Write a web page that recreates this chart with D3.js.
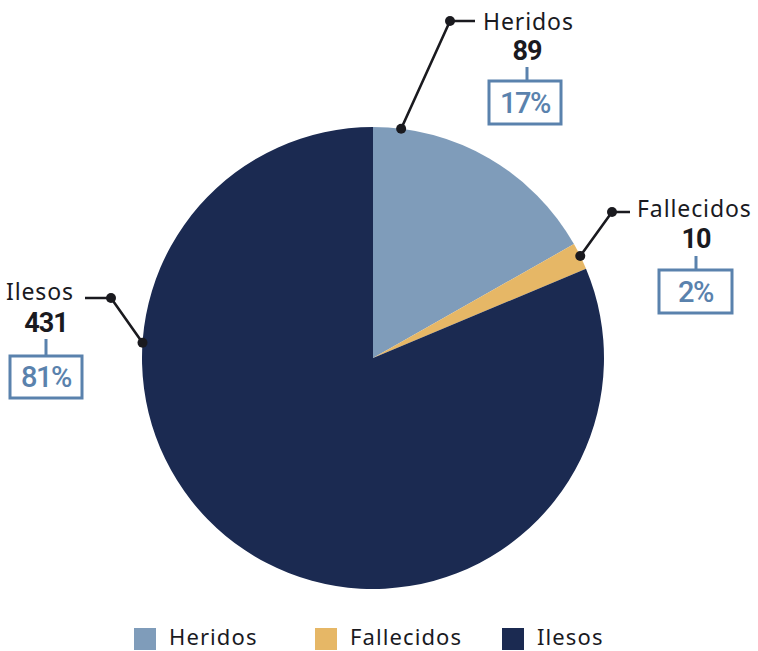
<!DOCTYPE html>
<html><head><meta charset="utf-8">
<script src="https://cdn.jsdelivr.net/npm/d3@7"></script>
<style>
html,body{margin:0;padding:0;background:#fff;}
svg{display:block;}
</style></head>
<body>
<svg id="chart" width="758" height="651"></svg>
<script>
const categories = ["Heridos", "Fallecidos", "Ilesos"];
const values = [89, 10, 431];
const percentLabels = ["17%", "2%", "81%"];
const colors = ["#7f9cba", "#e6b766", "#1b2a51"];

const svg = d3.select("#chart");
const cx = 373, cy = 358, R = 231;
const g = svg.append("g").attr("transform", `translate(${cx},${cy})`);

const pie = d3.pie().sort(null).value(d => d)(values);
const arc = d3.arc().innerRadius(0).outerRadius(R);
g.selectAll("path.slice").data(pie).join("path")
  .attr("class","slice")
  .attr("d", arc)
  .attr("fill", (d,i) => colors[i]);

// label layout (positions only)
const layout = [
  {anchorDeg: 7, elbow:[450,21], lineEnd:[475,21], text:[483,30], anchor:"start", numX:527, numY:60, box:[489,81,72,43], stubTop:67},
  {anchorDeg: 63.8, elbow:[612,212], lineEnd:[630,212], text:[637,217], anchor:"start", numX:696, numY:248, box:[659,270,73,43], stubTop:256},
  {anchorDeg: 273.8, elbow:[111,298], lineEnd:[85,298], text:[74,300], anchor:"end", numX:46, numY:332, box:[10,356,72,42], stubTop:339}
];

const ink = "#1a1a1f", blue = "#5a82ad";
const labelFont = "'Noto Sans', 'Open Sans', sans-serif";
const numFont = "'Roboto', 'Noto Sans', sans-serif";
layout.forEach((L, i) => {
  const a = L.anchorDeg * Math.PI / 180;
  const px = cx + R * Math.sin(a), py = cy - R * Math.cos(a);
  svg.append("polyline")
    .attr("points", `${px},${py} ${L.elbow[0]},${L.elbow[1]} ${L.lineEnd[0]},${L.lineEnd[1]}`)
    .attr("fill","none").attr("stroke", ink).attr("stroke-width", 2.6);
  svg.append("circle").attr("cx", px).attr("cy", py).attr("r", 5).attr("fill", ink);
  svg.append("circle").attr("cx", L.elbow[0]).attr("cy", L.elbow[1]).attr("r", 5).attr("fill", ink);
  svg.append("text").attr("x", L.text[0]).attr("y", L.text[1])
    .attr("text-anchor", L.anchor)
    .attr("font-family", labelFont)
    .attr("font-size", 23).attr("letter-spacing", 0.9).attr("fill", ink)
    .text(categories[i]);
  svg.append("text").attr("x", L.numX).attr("y", L.numY)
    .attr("text-anchor","middle")
    .attr("font-family", numFont)
    .attr("font-weight","bold").attr("font-size", 27).attr("letter-spacing", -1).attr("fill", ink)
    .text(values[i]);
  const [bx,by,bw,bh] = L.box;
  svg.append("line").attr("x1", L.numX).attr("x2", L.numX).attr("y1", L.stubTop).attr("y2", by)
    .attr("stroke", blue).attr("stroke-width", 3);
  svg.append("rect").attr("x", bx).attr("y", by).attr("width", bw).attr("height", bh)
    .attr("fill","#fff").attr("stroke", blue).attr("stroke-width", 3);
  svg.append("text").attr("x", bx + bw/2).attr("y", by + bh/2 + 10)
    .attr("text-anchor","middle")
    .attr("font-family", numFont)
    .attr("font-weight", 500).attr("font-size", 29).attr("letter-spacing", -1.5).attr("fill", blue)
    .text(percentLabels[i]);
});

// legend
const legX = [134, 315, 502];
const leg = svg.append("g");
categories.forEach((c, i) => {
  leg.append("rect").attr("x", legX[i]).attr("y", 628).attr("width", 22).attr("height", 22).attr("fill", colors[i]);
  leg.append("text").attr("x", legX[i] + 35).attr("y", 645)
    .attr("font-family", labelFont)
    .attr("font-size", 22).attr("letter-spacing", 1.1).attr("fill", ink).text(c);
});
</script>
</body></html>
